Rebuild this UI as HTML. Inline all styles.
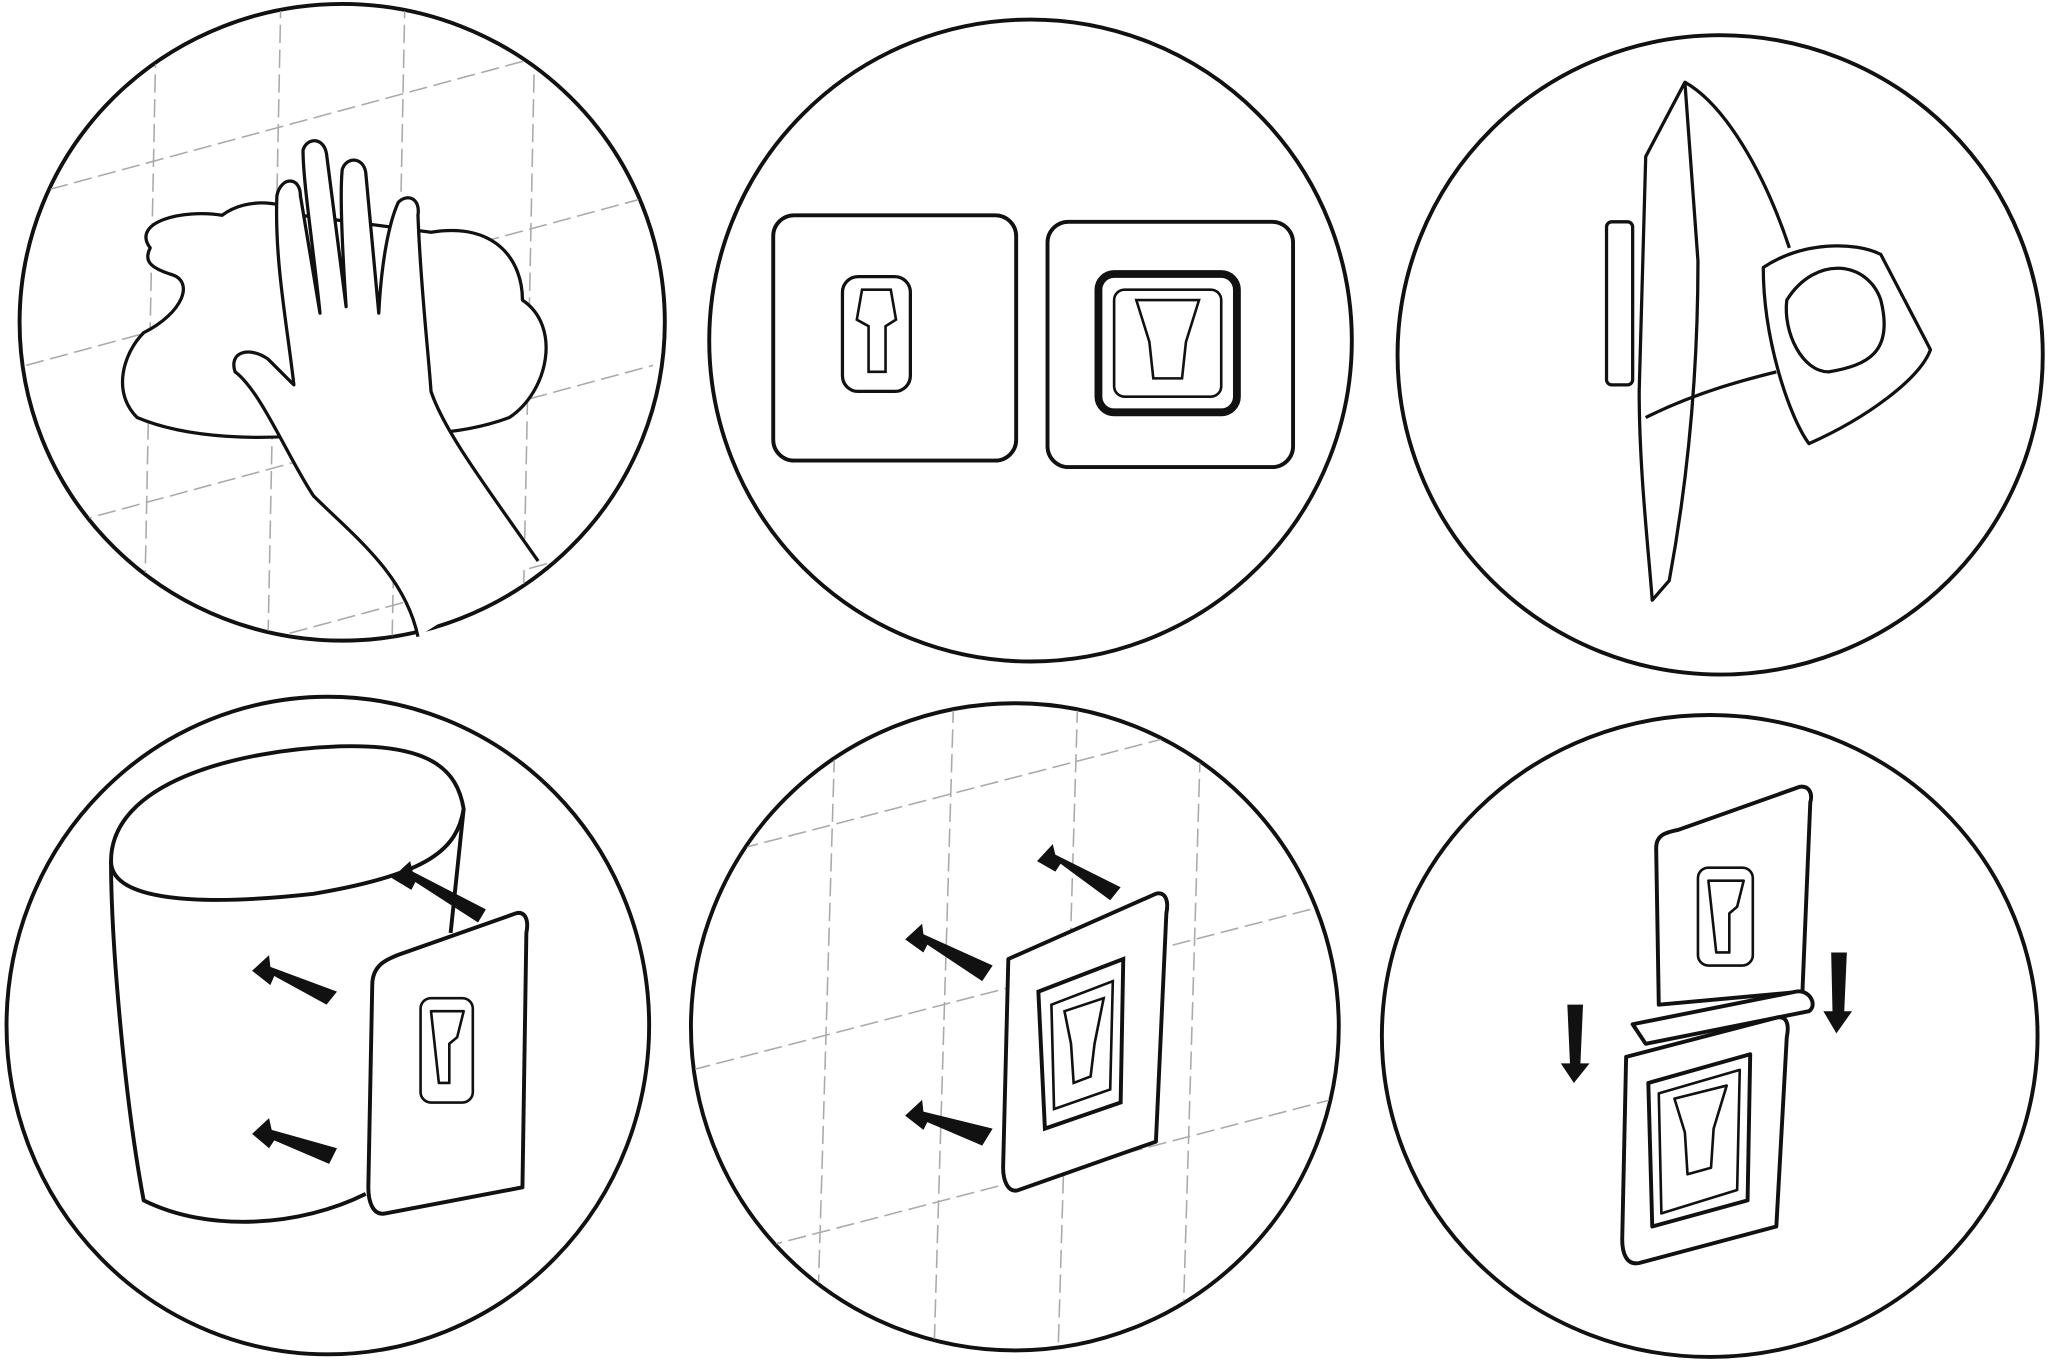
<!DOCTYPE html>
<html><head><style>html,body{margin:0;padding:0;background:#fff;width:2048px;height:1370px;overflow:hidden;position:relative}svg{display:block;position:absolute;left:0;top:0}</style></head>
<body>
<svg width="2048" height="1370" viewBox="0 0 1568 1050" preserveAspectRatio="none" xmlns="http://www.w3.org/2000/svg">
<defs>
<clipPath id="c1"><ellipse cx="262" cy="247" rx="246" ry="243"/></clipPath>
<clipPath id="c5"><ellipse cx="777" cy="787" rx="247" ry="247"/></clipPath>
</defs>
<g fill="none" stroke="#111" stroke-width="3">
<ellipse cx="262" cy="247" rx="247" ry="244"/>
<ellipse cx="789" cy="261" rx="246" ry="246"/>
<ellipse cx="1317" cy="272" rx="247" ry="245"/>
<ellipse cx="251" cy="786" rx="246" ry="252"/>
<ellipse cx="777" cy="787" rx="248" ry="248"/>
<ellipse cx="1309" cy="794" rx="251" ry="246"/>
</g>
<g clip-path="url(#c1)" stroke="#aaa" stroke-width="1.2" stroke-dasharray="14 5" fill="none">
<path d="M20 150 L500 20 M20 280 L500 150 M20 410 L500 280 M20 540 L500 410"/>
<path d="M120 0 L110 500 M215 0 L205 500 M310 0 L300 500 M410 0 L400 500"/>
</g>
<g fill="#fff" stroke="#111" stroke-width="2.5" stroke-linejoin="round">
<path d="M115 190 C100 170 140 160 170 165 C190 150 220 155 230 165 L330 178 C380 170 400 200 400 230 C430 250 420 300 390 320 C350 335 300 335 260 330 C200 340 140 335 105 320 C85 300 95 270 110 255 C140 240 150 215 130 210 C115 205 110 200 115 190 Z"/>
<path d="M320 488 C310 440 270 410 240 380 C220 350 200 300 180 285 C175 270 190 265 205 275 L225 295 C220 250 210 200 212 150 C215 135 230 135 230 150 L245 240 C240 190 232 140 232 115 C235 105 248 105 250 118 L265 235 C262 190 260 150 262 130 C265 120 278 120 280 132 L290 240 C292 200 298 170 305 155 C312 148 322 152 320 165 C322 220 328 270 330 300 C340 330 370 370 412 430"/>
</g>
<g fill="none" stroke="#111" stroke-width="3">
<rect x="592" y="165" width="186" height="188" rx="16"/>
<rect x="802" y="170" width="188" height="188" rx="16"/>
<rect x="645" y="212" width="52" height="88" rx="12" stroke-width="2.5"/>
<path d="M660 222 L682 222 L686 245 L678 250 L678 285 L665 285 L665 250 L656 245 Z" stroke-width="2"/>
<rect x="841" y="210" width="106" height="106" rx="12" stroke-width="6"/>
<rect x="853" y="222" width="82" height="82" rx="8" stroke-width="2"/>
<path d="M870 230 L918 230 L908 262 L905 290 L883 290 L880 262 Z" stroke-width="2"/>
</g>
<g fill="none" stroke="#111" stroke-width="2.5" stroke-linejoin="round">
<path d="M1290 63 L1260 120 L1255 300 C1255 360 1262 420 1265 460 L1278 445 C1290 380 1300 300 1300 200 Z"/>
<path d="M1290 63 C1320 80 1350 130 1370 190"/>
<path d="M1260 320 C1300 300 1340 290 1360 285"/>
<rect x="1230" y="170" width="20" height="125" rx="4"/>
<path d="M1350 205 C1380 185 1420 185 1440 195 L1478 268 C1470 290 1430 320 1385 340 C1370 320 1350 260 1350 205 Z"/>
<path d="M1368 230 C1390 195 1430 200 1440 230 C1450 270 1430 280 1400 285 C1380 285 1365 255 1368 230 Z"/>
</g>
<g fill="none" stroke="#111" stroke-width="3" stroke-linejoin="round">
<path d="M85 660 C85 600 180 575 260 572 C330 570 350 590 355 620 C350 650 330 670 240 685 C150 695 85 690 85 660 Z"/>
<path d="M85 660 C85 720 95 840 110 920 C160 945 230 940 280 915"/>
<path d="M355 620 L345 715"/>
<path d="M285 755 C285 740 295 735 310 730 L395 700 C402 698 405 705 403 715 L400 910 L295 930 C285 932 282 920 282 910 Z"/>
<rect x="322" y="765" width="40" height="80" rx="8" stroke-width="2"/>
<path d="M330 775 L355 775 L350 795 L344 800 L344 830 L336 830 Z" stroke-width="2"/>
</g>
<g fill="#111">
<polygon points="372,697 316,668 314,660 300,673 315,682 318,676 366,707"/>
<polygon points="258,760 207,741 206,732 193,744 207,755 210,748 250,770"/>
<polygon points="258,880 208,866 206,857 193,869 206,880 210,874 252,892"/>
</g>
<g clip-path="url(#c5)" stroke="#aaa" stroke-width="1.2" stroke-dasharray="14 5" fill="none">
<path d="M530 660 L1030 530 M530 820 L1030 690 M530 970 L1030 840 M530 1110 L1030 980"/>
<path d="M640 540 L625 1040 M730 540 L715 1040 M825 540 L810 1040 M920 540 L905 1040"/>
</g>
<g fill="#fff" stroke="#111" stroke-width="3" stroke-linejoin="round">
<path d="M772 735 L885 685 C892 683 895 690 893 700 L885 875 L780 912 C772 915 768 905 768 895 Z"/>
</g>
<g fill="none" stroke="#111" stroke-width="3">
<path d="M795 760 L860 735 L858 845 L800 865 Z"/>
<path d="M805 770 L852 752 L850 835 L807 850 Z" stroke-width="2"/>
<path d="M815 775 L845 765 L838 800 L835 825 L822 830 L820 800 Z" stroke-width="2"/>
</g>
<g fill="#111">
<polygon points="858,680 808,655 806,647 794,660 808,668 812,662 850,690"/>
<polygon points="760,740 707,716 706,708 693,720 707,730 710,724 752,752"/>
<polygon points="760,865 707,852 706,843 693,855 707,866 710,860 752,878"/>
</g>
<g fill="#fff" stroke="#111" stroke-width="3" stroke-linejoin="round">
<path d="M1268 650 C1268 640 1275 638 1285 636 L1378 603 C1385 602 1388 608 1386 615 L1380 760 L1270 770 Z"/>
<rect x="1300" y="665" width="42" height="75" rx="8" stroke-width="2"/>
<path d="M1308 675 L1335 675 L1330 695 L1324 700 L1324 730 L1314 730 Z" stroke-width="2"/>
<path d="M1250 785 L1375 760 C1385 758 1392 770 1385 775 L1260 800 Z"/>
<path d="M1245 810 L1360 780 C1368 778 1370 785 1368 795 L1360 940 L1255 968 C1245 970 1242 960 1242 950 Z"/>
<path d="M1262 830 L1340 808 L1338 920 L1265 940 Z"/>
<path d="M1270 838 L1332 820 L1330 912 L1272 930 Z" stroke-width="2"/>
<path d="M1282 842 L1322 832 L1312 865 L1310 895 L1292 900 L1290 868 Z" stroke-width="2"/>
</g>
<g fill="#111">
<polygon points="1200,770 1212,770 1210,815 1217,815 1205,830 1195,815 1202,815"/>
<polygon points="1402,730 1414,730 1412,775 1418,775 1406,792 1396,775 1403,775"/>
</g>
</svg>
</body></html>
